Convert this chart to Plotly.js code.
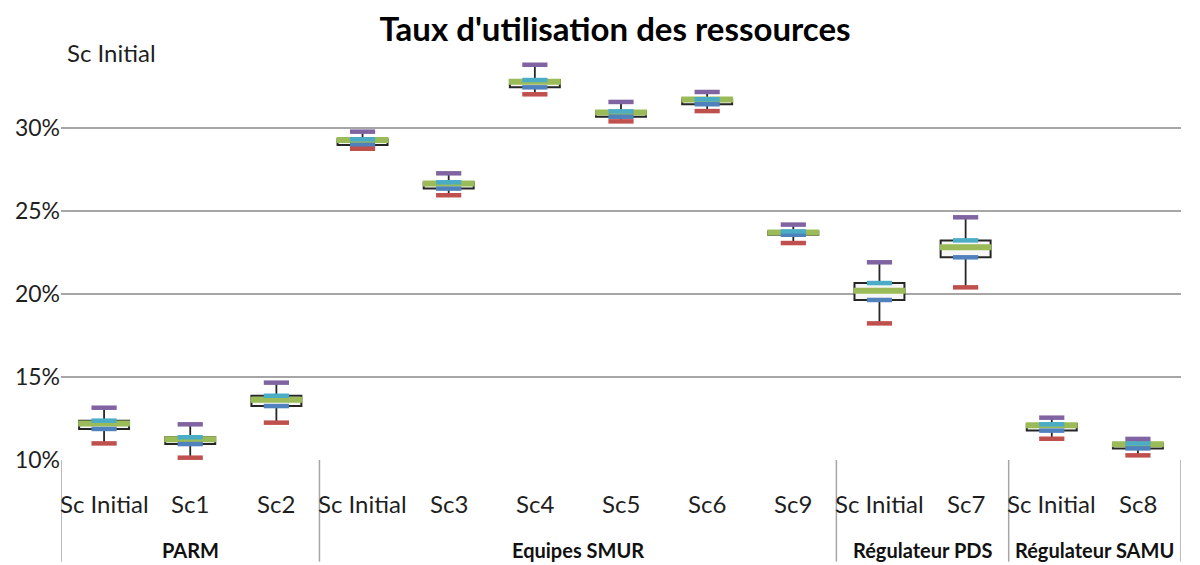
<!DOCTYPE html>
<html>
<head>
<meta charset="utf-8">
<script src="https://cdn.plot.ly/plotly-3.0.1.min.js"></script>
<style>html,body{margin:0;padding:0;background:#fff;}#chart{width:1200px;height:565px;}</style>
</head>
<body>
<div id="chart"></div>
<script>
// ---- data (values in %) ----
const categories = ["Sc Initial","Sc1","Sc2","Sc Initial","Sc3","Sc4","Sc5","Sc6","Sc9","Sc Initial","Sc7","Sc Initial","Sc8"];
const groups = ["PARM","Equipes SMUR","Régulateur PDS","Régulateur SAMU"];
const groupSizes = [3,6,2,2];
const maxVals    = [13.15,12.15,14.66,29.78,27.27,33.81,31.57,32.17,24.18,21.91,24.62,12.55,11.27];
const q3Vals     = [12.37,11.37,13.87,29.32,26.73,32.89,31.00,31.73,23.77,20.66,23.23,12.15,11.00];
const medianVals = [12.20,11.25,13.63,29.28,26.65,32.79,30.94,31.71,23.71,20.20,22.81,12.09,10.95];
const q1Vals     = [11.87,10.96,13.25,28.98,26.35,32.45,30.68,31.43,23.57,19.64,22.21,11.77,10.70];
const minVals    = [11.00,10.14,12.25,28.75,25.95,32.03,30.40,31.02,23.07,18.23,20.40,11.28,10.28];
const yTicks = [10,15,20,25,30];
const titleText = "Taux d'utilisation des ressources";
const strayLabel = "Sc Initial";

const idx = categories.map((_, i) => i);
const FONT = "Lato, 'Open Sans', sans-serif";
const TXT = "#1f1f1f";

const traces = [];
// box body
traces.push({
  type: 'bar', x: idx, y: idx.map(i => q3Vals[i] - q1Vals[i]), base: q1Vals,
  width: 0.58, marker: {color: '#f6f6f6', line: {color: '#262626', width: 2}},
  hoverinfo: 'skip'
});
// upper whisker
traces.push({
  type: 'scatter', mode: 'markers', x: idx, y: q3Vals,
  marker: {size: 1, opacity: 0},
  error_y: {type: 'data', symmetric: false, array: idx.map(i => maxVals[i] - q3Vals[i]), arrayminus: idx.map(() => 0), width: 0, thickness: 1.8, color: '#262626'},
  hoverinfo: 'skip'
});
// lower whisker
traces.push({
  type: 'scatter', mode: 'markers', x: idx, y: q1Vals,
  marker: {size: 1, opacity: 0},
  error_y: {type: 'data', symmetric: false, array: idx.map(() => 0), arrayminus: idx.map(i => q1Vals[i] - minVals[i]), width: 0, thickness: 1.8, color: '#262626'},
  hoverinfo: 'skip'
});
function dash(vals, color, size, w) {
  return {type: 'scatter', mode: 'markers', x: idx, y: vals,
    marker: {symbol: 'line-ew', size: size, color: color, line: {color: color, width: w}},
    hoverinfo: 'skip'};
}
traces.push(dash(medianVals, '#9BBB59', 37, 6));
traces.push(dash(q1Vals, '#4F81BD', 18, 4.5));
traces.push(dash(q3Vals, '#4BACC6', 18, 4.5));
traces.push(dash(maxVals, '#8064A2', 18, 4.5));
traces.push(dash(minVals, '#C0504D', 18, 4.5));

// annotations: category labels and group labels
const annotations = [];
categories.forEach((c, i) => annotations.push({
  xref: 'x', yref: 'paper', x: i, y: -0.104, text: c, showarrow: false,
  xanchor: 'center', yanchor: 'middle', font: {family: FONT, size: 24, color: TXT}
}));
const shapes = [];
let start = -0.5;
shapes.push({type: 'line', xref: 'x', yref: 'paper', x0: start, x1: start, y0: 0, y1: -0.245, line: {color: '#a6a6a6', width: 1.5}});
groups.forEach((g, k) => {
  const end = start + groupSizes[k];
  annotations.push({xref: 'x', yref: 'paper', x: (start + end) / 2, y: -0.217, text: '<b>' + g + '</b>', showarrow: false,
    xanchor: 'center', yanchor: 'middle', font: {family: FONT, size: 20, color: '#111'}});
  shapes.push({type: 'line', xref: 'x', yref: 'paper', x0: end, x1: end, y0: 0, y1: -0.245, line: {color: '#a6a6a6', width: 1.5}});
  start = end;
});
annotations.push({xref: 'paper', yref: 'paper', x: 0.0455, y: 0.983, text: strayLabel, showarrow: false,
  xanchor: 'center', yanchor: 'middle', font: {family: FONT, size: 24, color: TXT}});

const layout = {
  width: 1200, height: 565,
  margin: {l: 61, r: 19, t: 45, b: 105},
  paper_bgcolor: '#fff', plot_bgcolor: '#fff',
  showlegend: false, hovermode: false, barmode: 'overlay',
  title: {text: '<b>' + titleText + '</b>', xref: 'container', x: 0.5125, xanchor: 'center', yref: 'container', y: 0.947, yanchor: 'middle',
    font: {family: FONT, size: 33, color: '#000'}},
  xaxis: {range: [-0.5, categories.length - 0.5], showticklabels: false, showgrid: false, zeroline: false, showline: false, ticks: ''},
  yaxis: {range: [10, 35], tickvals: yTicks, ticktext: yTicks.map(v => v + '%'), showgrid: true, gridcolor: '#a6a6a6', gridwidth: 1.5,
    zeroline: false, showline: false, ticks: '', tickfont: {family: FONT, size: 23, color: TXT}},
  annotations: annotations,
  shapes: shapes
};
Plotly.newPlot('chart', traces, layout, {displayModeBar: false, staticPlot: true});
</script>
</body>
</html>
